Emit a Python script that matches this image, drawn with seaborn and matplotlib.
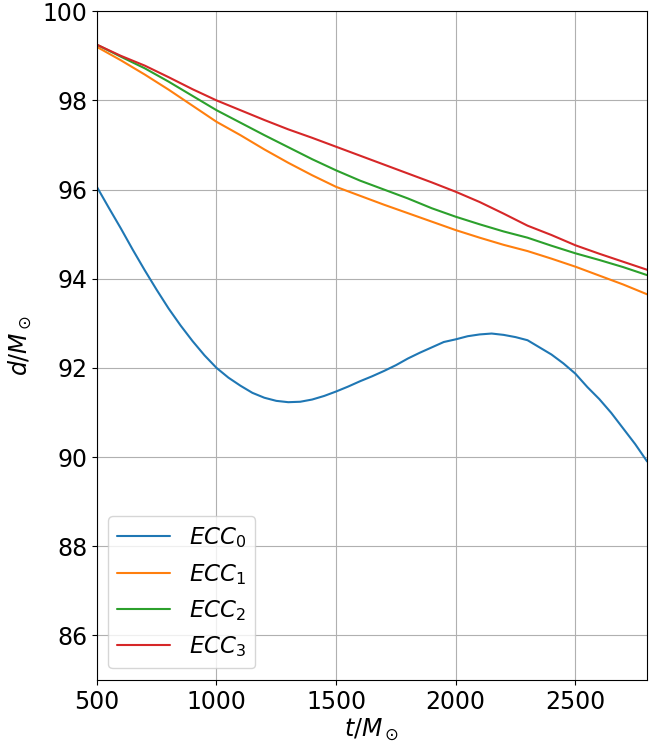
import numpy as np
import pandas as pd
import matplotlib
matplotlib.use("Agg")
import matplotlib.pyplot as plt
import seaborn as sns

# time samples (in units of M_sun)
t0 = [500, 550, 600, 650, 700, 750, 800, 850, 900, 950, 1000, 1050, 1100,
      1150, 1200, 1250, 1300, 1350, 1400, 1450, 1500, 1550, 1600, 1650,
      1700, 1750, 1800, 1850, 1900, 1950, 2000, 2050, 2100, 2150, 2200,
      2250, 2300, 2350, 2400, 2450, 2500, 2550, 2600, 2650, 2700, 2750, 2800]
t = [500, 600, 700, 800, 900, 1000, 1100, 1200, 1300, 1400, 1500, 1600,
     1700, 1800, 1900, 2000, 2100, 2200, 2300, 2400, 2500, 2600, 2700, 2800]

# separation d/M_sun for each run
ecc0 = [96.06, 95.59, 95.13, 94.65, 94.19, 93.75, 93.33, 92.95, 92.60, 92.28,
        92.00, 91.78, 91.60, 91.44, 91.33, 91.26, 91.23, 91.24, 91.29, 91.37,
        91.47, 91.58, 91.70, 91.81, 91.93, 92.06, 92.21, 92.34, 92.46, 92.58,
        92.64, 92.71, 92.75, 92.77, 92.74, 92.69, 92.62, 92.46, 92.30, 92.10,
        91.87, 91.57, 91.30, 90.99, 90.64, 90.29, 89.90]
ecc1 = [99.20, 98.90, 98.58, 98.24, 97.88, 97.52, 97.22, 96.90, 96.60, 96.32,
        96.06, 95.86, 95.66, 95.47, 95.28, 95.09, 94.92, 94.76, 94.62, 94.45,
        94.27, 94.07, 93.87, 93.65]
ecc2 = [99.25, 98.98, 98.72, 98.42, 98.10, 97.78, 97.50, 97.22, 96.95, 96.68,
        96.43, 96.20, 96.00, 95.80, 95.58, 95.39, 95.22, 95.06, 94.92, 94.74,
        94.57, 94.42, 94.26, 94.08]
ecc3 = [99.25, 99.00, 98.78, 98.52, 98.25, 98.00, 97.78, 97.56, 97.35, 97.16,
        96.96, 96.76, 96.56, 96.36, 96.16, 95.95, 95.72, 95.46, 95.19, 94.98,
        94.75, 94.56, 94.38, 94.20]

labels = [r"$ECC_0$", r"$ECC_1$", r"$ECC_2$", r"$ECC_3$"]
times = [t0, t, t, t]
series = [ecc0, ecc1, ecc2, ecc3]

df = pd.concat(
    [pd.DataFrame({"t": tt, "d": s, "run": lab})
     for lab, tt, s in zip(labels, times, series)],
    ignore_index=True,
)

sns.set_style("white")
plt.rcParams["font.family"] = ["DejaVu Sans"]
plt.rcParams["text.color"] = "black"
plt.rcParams["axes.labelcolor"] = "black"
plt.rcParams["xtick.color"] = "black"
plt.rcParams["ytick.color"] = "black"

fig = plt.figure(figsize=(6.59, 7.48), dpi=100)
ax = fig.add_axes([0.147, 0.091, 0.835, 0.894])

sns.lineplot(data=df, x="t", y="d", hue="run", palette="tab10",
             linewidth=1.5, ax=ax)

ax.set_xlim(500, 2800)
ax.set_ylim(85, 100)
ax.set_xticks([500, 1000, 1500, 2000, 2500])
ax.set_yticks([86, 88, 90, 92, 94, 96, 98, 100])
ax.grid(True, color="#b0b0b0", linewidth=0.8)
for sp in ax.spines.values():
    sp.set_color("black")
    sp.set_linewidth(0.8)
ax.tick_params(axis="both", which="major", labelsize=17, direction="out",
               length=3.5, width=0.8, color="black", labelcolor="black",
               left=True, bottom=True)
ax.set_xlabel(r"$t/M_\odot$", fontsize=17, labelpad=2)
ax.set_ylabel(r"$d/M_\odot$", fontsize=17, labelpad=6)

leg = ax.legend(loc="lower left", fontsize=16.5, framealpha=0.8,
                handlelength=2.3, borderaxespad=0.5)
leg.set_title(None)

fig.savefig("out.png", dpi=100)
